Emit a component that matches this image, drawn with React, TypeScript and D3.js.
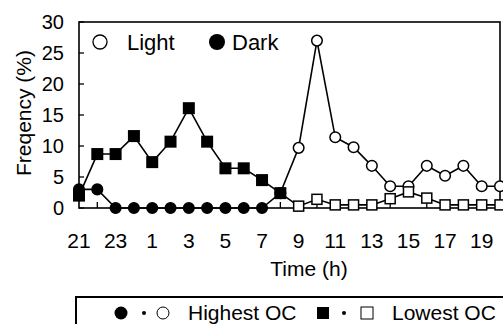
import * as d3 from "d3";

// hours from 21:00 through 20:00
const hours = [21, 22, 23, 0, 1, 2, 3, 4, 5, 6, 7, 8, 9, 10, 11, 12, 13, 14, 15, 16, 17, 18, 19, 20];
// dark phase = first 12 points (filled), light phase = rest (open)
const darkCount = 12;
const highestOC = [3, 3, 0, 0, 0, 0, 0, 0, 0, 0, 0, 2.4, 9.7, 27, 11.4, 9.8, 6.8, 3.5, 3.5, 6.8, 5.2, 6.8, 3.5, 3.5];
const lowestOC = [2, 8.7, 8.7, 11.6, 7.4, 10.7, 16.1, 10.7, 6.4, 6.4, 4.5, 2.4, 0.3, 1.4, 0.5, 0.5, 0.5, 1.5, 2.6, 1.6, 0.5, 0.5, 0.5, 0.5];
const yTicks = [0, 5, 10, 15, 20, 25, 30];

const W = 503, H = 324;
const left = 79, right = 500, top = 22, bottom = 208;
const font = "'Liberation Sans', Arial, Helvetica, sans-serif";

export default function App() {
  const x = d3.scaleLinear([0, hours.length - 1], [left, right]);
  const y = d3.scaleLinear([0, 30], [bottom, top]);
  const line = d3.line<number>().x((_d, i) => x(i)).y(d => y(d));
  const idx = d3.range(hours.length);

  return (
    <svg width={W} height={H} style={{ position: "absolute", left: 0, top: 0, background: "#fff" }} fontFamily={font}>
      {/* frame */}
      <rect x={left} y={top} width={right - left} height={bottom - top} fill="none" stroke="#000" strokeWidth={1.6} />
      {/* y ticks (inward) */}
      {yTicks.map(t => (
        <g key={t}>
          <line x1={left} x2={left + 5} y1={y(t)} y2={y(t)} stroke="#000" strokeWidth={1.3} />
          <text x={64} y={y(t) + 7} fontSize={20} textAnchor="end">{t}</text>
        </g>
      ))}
      {/* x ticks and labels */}
      {idx.map(i => i % 2 === 1 ? (
        <line key={"t" + i} x1={x(i)} x2={x(i)} y1={bottom} y2={bottom - 6} stroke="#000" strokeWidth={1.3} />
      ) : (
        <text key={"l" + i} x={x(i)} y={248} fontSize={21} textAnchor="middle">{hours[i]}</text>
      ))}
      <text x={309} y={276} fontSize={21} textAnchor="middle">Time (h)</text>
      <text transform="translate(31,113) rotate(-90)" fontSize={21} textAnchor="middle">Freqency (%)</text>

      {/* lines */}
      <path d={line(highestOC) ?? ""} fill="none" stroke="#000" strokeWidth={1.6} />
      <path d={line(lowestOC) ?? ""} fill="none" stroke="#000" strokeWidth={1.6} />

      {/* markers */}
      {highestOC.map((v, i) => (
        <circle key={"c" + i} cx={x(i)} cy={y(v)} r={5.3}
          fill={i < darkCount ? "#000" : "#fff"} stroke="#000" strokeWidth={1.5} />
      ))}
      {lowestOC.map((v, i) => (
        i < darkCount
          ? <rect key={"s" + i} x={x(i) - 6} y={y(v) - 6} width={12} height={12} fill="#000" />
          : <rect key={"s" + i} x={x(i) - 5} y={y(v) - 5} width={10} height={10} fill="#fff" stroke="#000" strokeWidth={1.5} />
      ))}

      {/* top legend */}
      <circle cx={100} cy={42} r={7} fill="#fff" stroke="#000" strokeWidth={1.3} />
      <text x={127} y={50} fontSize={22}>Light</text>
      <circle cx={217} cy={42} r={8} fill="#000" />
      <text x={232} y={50} fontSize={22}>Dark</text>

      {/* bottom legend box */}
      <path d={`M76,${H + 2} V297 H${W + 2}`} fill="none" stroke="#000" strokeWidth={2} />
      <circle cx={121} cy={313} r={6.5} fill="#000" />
      <circle cx={144} cy={313} r={2} fill="#000" />
      <circle cx={163} cy={313} r={6} fill="#fff" stroke="#000" strokeWidth={1} />
      <text x={188} y={320} fontSize={21}>Highest OC</text>
      <rect x={317} y={307} width={12} height={12} fill="#000" />
      <circle cx={344} cy={313} r={2} fill="#000" />
      <rect x={361} y={307} width={12} height={12} fill="#fff" stroke="#000" strokeWidth={1} />
      <text x={392} y={320} fontSize={21}>Lowest OC</text>
    </svg>
  );
}
